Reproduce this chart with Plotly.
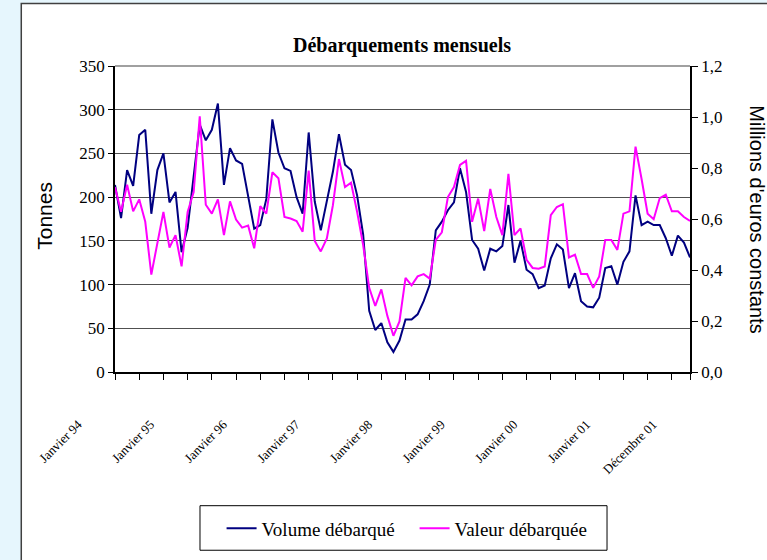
from plotly import graph_objects as go

volume=[214,176,231,213,271,277,181,231,250,194,206,137,
        165,225,283,265,277,307,214,256,242,238,202,164,
        168,198,289,251,233,230,200,181,274,195,162,195,
        229,272,237,231,202,157,70,48,56,34,23,36,
        60,60,66,81,100,162,172,185,194,233,206,151,
        141,116,141,138,144,191,125,150,117,112,96,99,
        130,146,140,96,113,81,75,74,85,119,121,100,
        126,138,202,168,172,168,168,153,133,156,148,131]

valeur=[0.725,0.628,0.734,0.630,0.677,0.589,0.382,0.50,0.628,0.488,0.537,0.414,
        0.628,0.706,1.003,0.656,0.621,0.677,0.537,0.669,0.598,0.566,0.574,0.485,
        0.650,0.621,0.783,0.760,0.608,0.602,0.592,0.550,0.790,0.514,0.473,0.524,
        0.654,0.835,0.725,0.742,0.628,0.498,0.330,0.259,0.324,0.220,0.142,0.198,
        0.369,0.340,0.375,0.384,0.366,0.518,0.548,0.686,0.725,0.812,0.828,0.589,
        0.680,0.553,0.718,0.608,0.537,0.777,0.537,0.563,0.440,0.408,0.405,0.414,
        0.615,0.647,0.658,0.449,0.460,0.384,0.384,0.330,0.375,0.518,0.518,0.479,
        0.621,0.630,0.884,0.757,0.621,0.599,0.682,0.695,0.630,0.630,0.608,0.592]

mois=list(range(len(volume)))
label_pos=[0,12,24,36,48,60,72,84,95]
label_text=["Janvier 94","Janvier 95","Janvier 96","Janvier 97","Janvier 98",
            "Janvier 99","Janvier 00","Janvier 01","Décembre 01"]

tickvals=list(range(0,96,4))+[95]
ticktext=[label_text[label_pos.index(v)] if v in label_pos else "" for v in tickvals]

serif="Liberation Serif"
sans="Liberation Sans"

fig=go.Figure()
fig.add_trace(go.Scatter(x=mois,y=volume,mode="lines",name="Volume débarqué",
                         line=dict(color="#000080",width=2)))
fig.add_trace(go.Scatter(x=mois,y=valeur,mode="lines",name="Valeur débarquée",
                         line=dict(color="#FF00FF",width=2),yaxis="y2"))

# white chart box on the light blue page
fig.add_shape(type="rect",xref="paper",yref="paper",x0=-0.163,x1=1.2,y0=-0.7,y1=1.204,
              line=dict(color="#404040",width=1.5),fillcolor="white",layer="below")
fig.add_shape(type="line",xref="paper",yref="paper",x0=0,x1=1,y0=1,y1=1,
              line=dict(color="#A0A0A0",width=2))
# legend frame
fig.add_shape(type="rect",xref="paper",yref="paper",x0=0.1478,x1=0.8557,y0=-0.5825,y1=-0.4369,
              line=dict(color="black",width=1),fillcolor="white",layer="below")

fig.update_layout(
    width=767,height=560,
    margin=dict(l=115,r=77,t=66,b=185),
    paper_bgcolor="#E6F6FD",plot_bgcolor="white",
    separators=", ",
    showlegend=True,
    legend=dict(orientation="h",x=0.521,xanchor="center",y=-0.511,yanchor="middle",
                bgcolor="rgba(0,0,0,0)",borderwidth=0,entrywidth=148,
                font=dict(family=serif,size=19,color="black")),
    xaxis=dict(range=[0,95],tickmode="array",tickvals=tickvals,ticktext=ticktext,
               tickangle=-45,ticks="outside",ticklen=6,tickcolor="black",
               showline=True,linecolor="black",linewidth=1.5,showgrid=False,zeroline=False,
               ticklabelstandoff=32,ticklabelshift=-37,automargin=False,
               tickfont=dict(family=serif,size=13,color="black")),
    yaxis=dict(range=[0,350],dtick=50,ticks="outside",ticklen=5,tickcolor="black",
               showline=True,linecolor="black",linewidth=1.5,automargin=False,
               showgrid=True,gridcolor="#505050",gridwidth=1,zeroline=False,
               tickfont=dict(family=serif,size=17,color="black")),
    yaxis2=dict(range=[0,1.2],dtick=0.2,tickformat=".1f",overlaying="y",side="right",
                ticks="outside",ticklen=6,tickcolor="black",automargin=False,
                showline=True,linecolor="black",linewidth=1.5,showgrid=False,zeroline=False,
                tickfont=dict(family=serif,size=17,color="black")),
    annotations=[
        dict(text="<b>Débarquements mensuels</b>",xref="paper",yref="paper",x=0.499,y=1.11,
             xanchor="center",showarrow=False,font=dict(family=serif,size=20,color="black")),
        dict(text="Tonnes",xref="paper",yref="paper",x=-0.122,y=0.51,textangle=-90,
             xanchor="center",yanchor="middle",showarrow=False,
             font=dict(family=sans,size=21,color="black")),
        dict(text="Millions d'euros constants",xref="paper",yref="paper",x=1.117,y=0.498,
             textangle=90,xanchor="center",yanchor="middle",showarrow=False,
             font=dict(family=sans,size=20,color="black")),
    ],
)

fig.write_html("out.html",config={"displayModeBar":False},
               post_script="document.body.style.margin='0';")
